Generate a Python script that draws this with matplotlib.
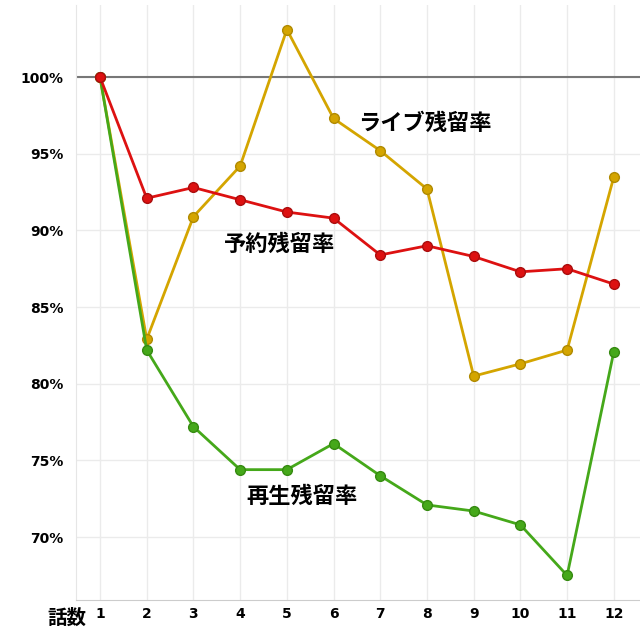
import matplotlib.pyplot as plt
import numpy as np

plt.rcParams['font.family'] = ['Noto Sans CJK JP', 'DejaVu Sans']

# episode numbers and retention rates (%)
episodes = np.arange(1, 13)
reserve = [100, 92.1, 92.8, 92.0, 91.2, 90.8, 88.4, 89.0, 88.3, 87.3, 87.5, 86.5]
live = [100, 82.9, 90.9, 94.2, 103.1, 97.3, 95.2, 92.7, 80.5, 81.3, 82.2, 93.5]
play = [100, 82.2, 77.2, 74.4, 74.4, 76.1, 74.0, 72.1, 71.7, 70.8, 67.5, 82.1]
yticks = [70, 75, 80, 85, 90, 95, 100]

fig = plt.figure(figsize=(6.4, 6.4), dpi=100)
ax = fig.add_axes([76/640, 40/640, 564/640, 595/640])

ax.set_xlim(0.486, 12.56)
ax.set_ylim(65.9, 104.7)

ax.set_xticks(episodes)
ax.set_yticks(yticks)
ax.set_yticklabels([str(v) + '%' for v in yticks])
ax.grid(True, color='#ebebeb', linewidth=1)
ax.set_axisbelow(True)
ax.axhline(100, color='#777777', linewidth=1.5, zorder=1)

for s in ['top', 'right']:
    ax.spines[s].set_visible(False)
ax.spines['left'].set_color('#e6e6e6')
ax.spines['bottom'].set_color('#cccccc')
ax.tick_params(axis='y', length=0, pad=9, labelsize=10)
ax.tick_params(axis='x', length=0, pad=5, labelsize=10)
for lab in ax.get_xticklabels() + ax.get_yticklabels():
    lab.set_fontweight('bold')
    lab.set_family('DejaVu Sans')

ax.plot(episodes, live, color='#d4a500', lw=2, marker='o', ms=7,
        mfc='#d4a500', mec='#b08a00', zorder=3)
ax.plot(episodes, play, color='#45a81a', lw=2, marker='o', ms=7,
        mfc='#45a81a', mec='#358a10', zorder=4)
ax.plot(episodes, reserve, color='#dd1111', lw=2, marker='o', ms=7,
        mfc='#dd1111', mec='#aa0d0d', zorder=5)

ax.text(7.95, 97.0, 'ライブ残留率', fontsize=16, fontweight='bold',
        ha='center', va='center')
ax.text(4.85, 89.1, '予約残留率', fontsize=16, fontweight='bold',
        ha='center', va='center')
ax.text(5.32, 72.65, '再生残留率', fontsize=16, fontweight='bold',
        ha='center', va='center')

fig.text(67/640, 1 - 618/640, '話数', fontsize=14, fontweight='bold',
         ha='center', va='center')

plt.savefig('out.png', dpi=100)
